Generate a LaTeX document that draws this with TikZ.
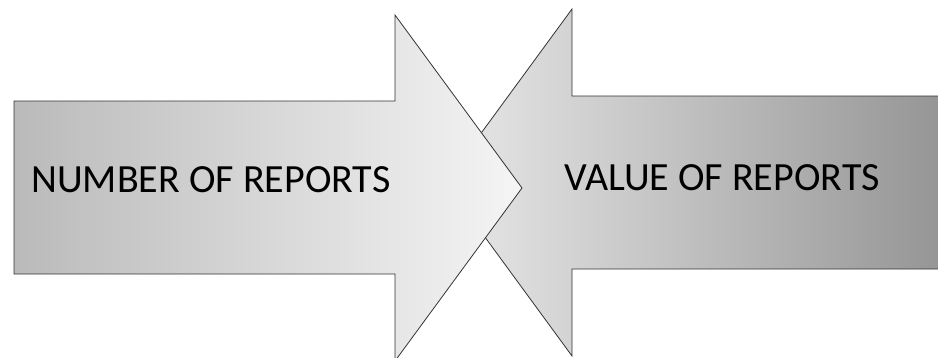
\documentclass[tikz,border=0pt]{standalone}
\usepackage{fontspec}
\setmainfont{Carlito}

\begin{document}
\begin{tikzpicture}[x=1pt,y=-1pt,
                    arrowbox/.style={draw=black!80,line width=0.8pt,line join=miter},
                    caption/.style={font=\fontsize{40}{44}\selectfont,anchor=base}]
  \useasboundingbox (0,0) rectangle (938,357);

  % value arrow, behind the other one
  \draw[arrowbox,left color=black!9,right color=black!42]
    (950,96) -- (572,96) -- (572,9) -- (445,182.5) -- (572,356) -- (572,269) -- (950,269);

  % number arrow
  \draw[arrowbox,left color=black!27,right color=black!4]
    (14,101) -- (395,101) -- (395,15) -- (522,188) -- (395,361) -- (395,274) -- (14,274) -- cycle;

  \node[caption] (num) at (211,192) {NUMBER OF REPORTS};
  \node[caption] (val) at (722,190) {VALUE OF REPORTS};
\end{tikzpicture}
\end{document}
